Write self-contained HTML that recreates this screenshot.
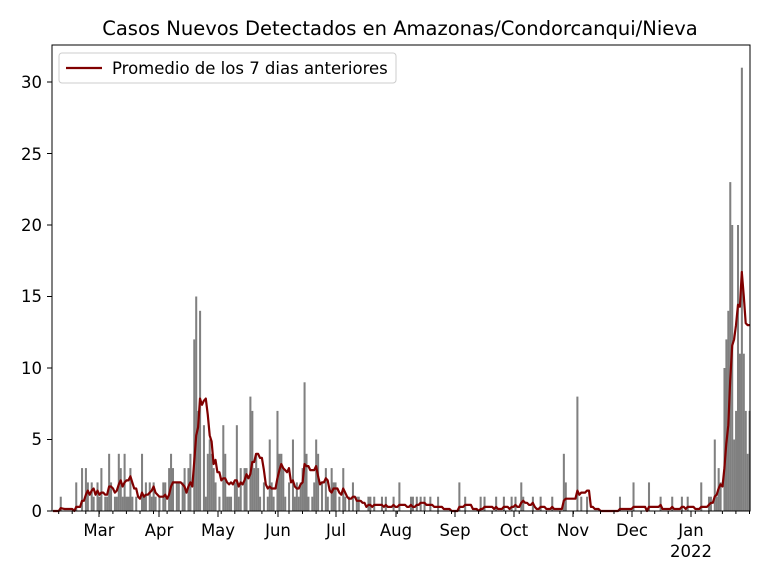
<!DOCTYPE html>
<html><head><meta charset="utf-8"><style>
html,body{margin:0;padding:0;background:#fff;}
svg text{font-family:"DejaVu Sans","Liberation Sans",sans-serif;}
</style></head><body>
<svg id="s" width="768" height="576" xmlns="http://www.w3.org/2000/svg">
<rect width="768" height="576" fill="#fff"/>
<g id="bars"></g>
<polyline id="avg" fill="none" stroke="#800000" stroke-width="2.2" stroke-linejoin="round"/>
<rect x="52" y="45" width="698" height="466" fill="none" stroke="#000" stroke-width="1"/>
<g id="ticks" stroke="#000" stroke-width="1"></g>
<g font-size="16.5" fill="#000" text-anchor="end">
<text x="42" y="517">0</text><text x="42" y="445">5</text><text x="42" y="374">10</text>
<text x="42" y="302">15</text><text x="42" y="231">20</text><text x="42" y="160">25</text><text x="42" y="88">30</text>
</g>
<g font-size="16.5" fill="#000" text-anchor="middle">
<text x="99" y="536">Mar</text><text x="159" y="536">Apr</text><text x="218" y="536">May</text>
<text x="278" y="536">Jun</text><text x="336" y="536">Jul</text><text x="396" y="536">Aug</text>
<text x="455" y="536">Sep</text><text x="514" y="536">Oct</text><text x="573" y="536">Nov</text>
<text x="632" y="536">Dec</text><text x="691" y="536">Jan</text><text x="691" y="557">2022</text>
</g>
<text x="400" y="35" font-size="19.5" text-anchor="middle">Casos Nuevos Detectados en Amazonas/Condorcanqui/Nieva</text>
<rect x="59" y="53" width="337" height="30" rx="3" fill="#fff" fill-opacity="0.8" stroke="#ccc"/>
<line x1="66" y1="68" x2="102" y2="68" stroke="#800000" stroke-width="2.2"/>
<text x="112" y="74" font-size="16.5">Promedio de los 7 dias anteriores</text>
</svg>
<script>
var pts=[[60,1],[75,2],[81,3],[85,3],[87,2],[91,2],[93,1],[96,2],[98,1],[100,4],[101,3],[104,1],[106,1],[108,4],[110,2],[113,1],[116,1],[118,4],[120,3],[122,1],[124,4],[126,1],[128,1],[130,3],[131,1],[136,1],[141,4],[143,1],[145,2],[148,2],[150,1],[152,2],[155,1],[158,1],[162,2],[165,2],[168,3],[170,4],[172,3],[175,2],[178,2],[181,2],[184,3],[187,3],[190,4],[193,12],[195,15],[197,8],[198,7],[200,14],[202,6],[204,1],[206,4],[208,5],[210,4],[212,3],[215,2],[218,1],[222,6],[224,4],[226,1],[228,1],[230,1],[233,2],[235,6],[237,1],[240,3],[243,3],[246,3],[249,8],[251,7],[253,3],[255,4],[258,3],[260,1],[263,2],[266,1],[269,5],[271,2],[273,1],[276,7],[278,4],[280,4],[282,3],[285,1],[288,2],[291,5],[293,1],[296,2],[298,1],[300,2],[302,3],[303,9],[305,4],[308,1],[311,1],[314,2],[316,5],[318,4],[321,2],[324,3],[327,1],[330,3],[332,2],[335,2],[338,1],[342,3],[345,1],[348,1],[352,2],[355,1],[358,1],[367,1],[370,1],[374,1],[380,1],[385,1],[392,1],[398,2],[410,1],[412,1],[415,1],[420,1],[424,1],[430,1],[437,1],[459,2],[465,1],[479,1],[484,1],[496,1],[503,1],[510,1],[514,1],[520,2],[523,1],[531,1],[540,1],[551,1],[563,4],[565,2],[577,8],[580,1],[587,1],[619,1],[632,2],[648,2],[660,1],[671,1],[680,1],[686,1],[701,2],[708,1],[710,1],[713,5],[716,1],[718,3],[720,2],[723,10],[725,12],[727,14],[729,23],[731,20],[733,7],[734,5],[736,7],[737,20],[739,11],[741,31],[743,11],[745,7],[747,4],[748,7]];
var dw=1.935,N=361,v=new Array(N).fill(0);
pts.forEach(function(p){var i=Math.round((p[0]-52)/dw);if(i>=0&&i<N)v[i]=p[1];});
var ns="http://www.w3.org/2000/svg",g=document.getElementById('bars'),sc=429/30;
var poly=[];
for(var i=0;i<N;i++){var x=52+i*dw;
 if(v[i]>0){var r=document.createElementNS(ns,'rect');r.setAttribute('x',x.toFixed(2));r.setAttribute('width',(dw+0.1).toFixed(2));r.setAttribute('y',(511-v[i]*sc).toFixed(2));r.setAttribute('height',(v[i]*sc).toFixed(2));r.setAttribute('fill','#808080');g.appendChild(r);}
 var s=0,c=0;for(var k=Math.max(0,i-6);k<=i;k++){s+=v[k];c++;}
 var a=s/7;if(i<6)a=s/c;
 poly.push((x+dw/2).toFixed(1)+','+(511-a*sc).toFixed(1));}
document.getElementById('avg').setAttribute('points',poly.join(' '));
var t=document.getElementById('ticks'),h='';
[0,5,10,15,20,25,30].forEach(function(y){var yy=511-y*sc;h+='<line x1="47" x2="52" y1="'+yy+'" y2="'+yy+'"/>';});
[99,159,218,278,336,396,455,514,573,632,691].forEach(function(x){h+='<line x1="'+x+'" x2="'+x+'" y1="511" y2="517"/>';});
for(var x=58.7;x<750;x+=7*dw){h+='<line x1="'+x.toFixed(1)+'" x2="'+x.toFixed(1)+'" y1="511" y2="514"/>';}
t.innerHTML=h;
</script>
</body></html>
